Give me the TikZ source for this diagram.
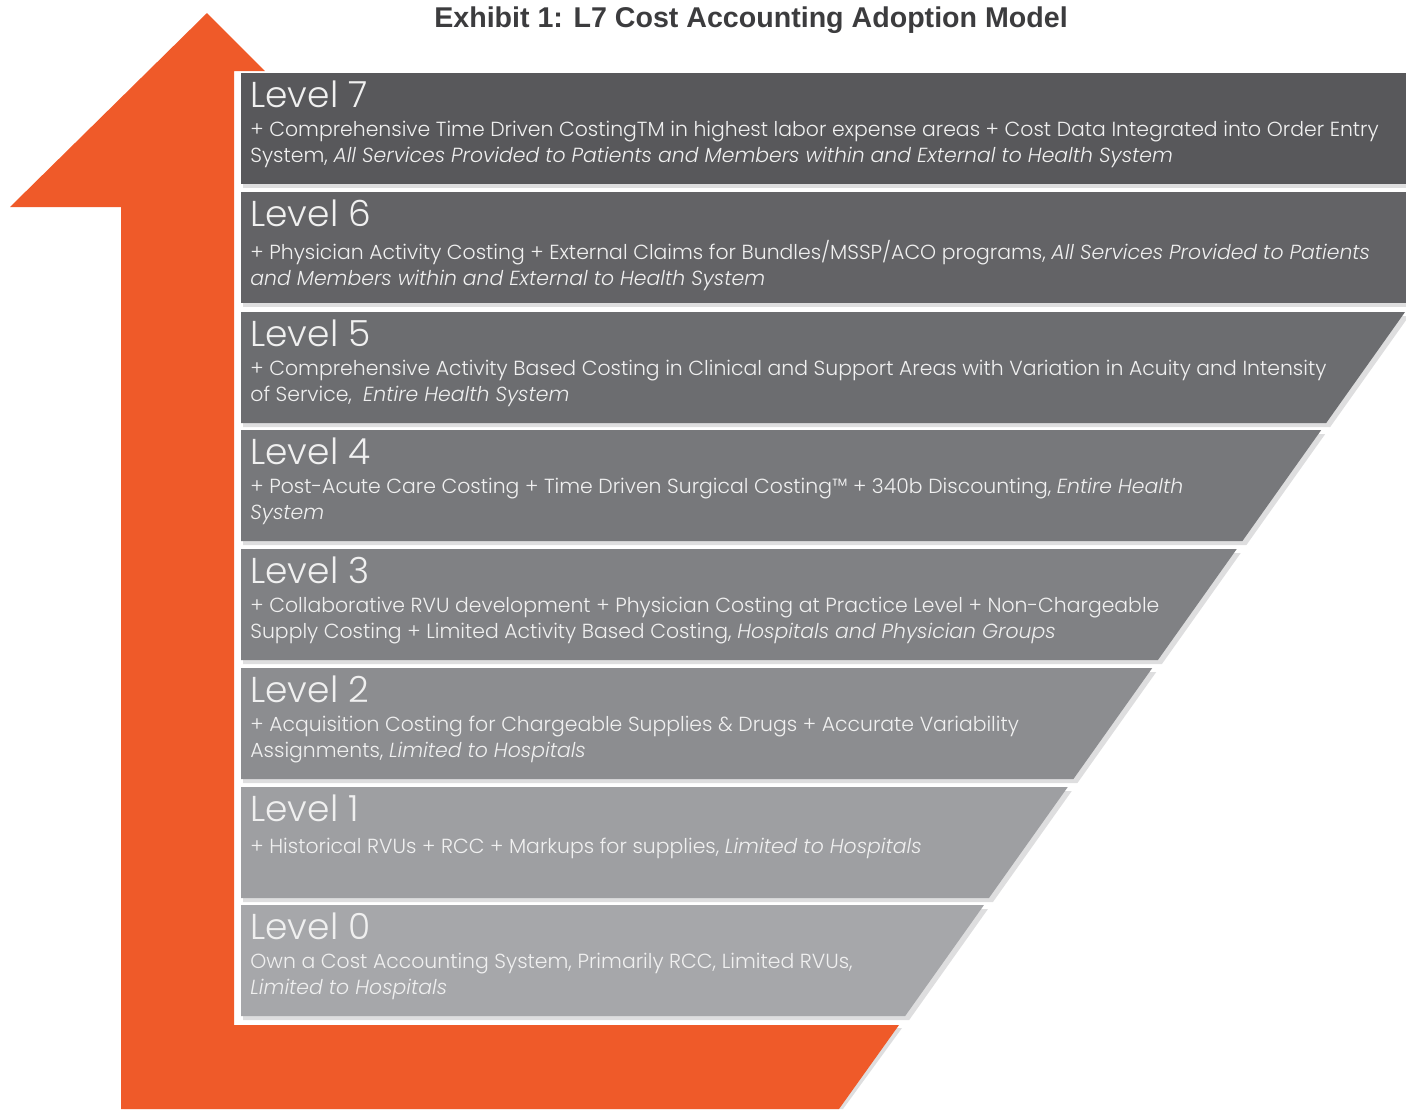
\documentclass[tikz,border=0pt]{standalone}
\usepackage{fontspec}
\setmainfont{Poppins}[UprightFont=* Light, ItalicFont=* Light Italic]
\newfontfamily\titlefont{Liberation Sans}
\usepackage{xcolor}
\usetikzlibrary{positioning}
\definecolor{arroworange}{RGB}{239,90,41}
\definecolor{titlegray}{RGB}{60,60,62}
\definecolor{shadowgray}{RGB}{222,222,223}
\definecolor{lvseven}{RGB}{88,88,91}
\definecolor{lvsix}{RGB}{99,99,102}
\definecolor{lvfive}{RGB}{108,109,112}
\definecolor{lvfour}{RGB}{119,120,123}
\definecolor{lvthree}{RGB}{128,129,132}
\definecolor{lvtwo}{RGB}{140,141,144}
\definecolor{lvone}{RGB}{158,159,162}
\definecolor{lvzero}{RGB}{166,167,170}

\begin{document}
\begin{tikzpicture}[
    x=0.5pt, y=-0.5pt,
    title/.style={font=\titlefont\bfseries\fontsize{14.3}{16}\selectfont, text=titlegray, inner sep=0pt},
    head/.style={font=\fontsize{18}{20}\selectfont, text=white!94!black, inner sep=0pt},
    body/.style={font=\fontsize{10.2}{13}\selectfont, text=white!94!black, align=left, inner sep=0pt,
                 execute at begin node=\strut},
    shade/.style={fill=shadowgray}
]
\useasboundingbox (0,0) rectangle (1406,1109);

% big arrow behind the steps
\fill[shade] (124,1109) -- (843,1109) -- (902,1028) -- (124,1028) -- cycle;
\fill[arroworange] (207,13) -- (10,207) -- (121,207) -- (121,1109) -- (839,1109)
    -- (899,1025) -- (234,1025) -- (234,71) -- (265,71) -- cycle;

% steps, right edge follows one slanted line
\foreach \n/\t/\c in {7/73/lvseven, 6/192/lvsix, 5/312/lvfive, 4/430/lvfour,
                      3/549/lvthree, 2/668/lvtwo, 1/787/lvone, 0/905/lvzero} {
  \pgfmathsetmacro\xt{min(1406,1405-0.71*(\t-312))}
  \pgfmathsetmacro\xb{min(1406,1405-0.71*(\t+111-312))}
  \fill[shade] (243,\t+4) -- (\xt+4,\t+4) -- (\xb+4,\t+115) -- (243,\t+115) -- cycle;
  \fill[\c] (241,\t) -- (\xt,\t) -- (\xb,\t+111) -- (241,\t+111) -- cycle;
  \node[head, anchor=base west] (lv\n) at (250,\t+34) {Level \n};
}

\node[title, anchor=base] (caption) at (751,27) {Exhibit 1: L7 Cost Accounting Adoption Model};

\node[body, below right=6.8pt and 0pt of lv7.base west] (txt7)
  {+ Comprehensive Time Driven CostingTM in highest labor expense areas + Cost Data Integrated into Order Entry\\
   System, \textit{All Services Provided to Patients and Members within and External to Health System}};
\node[body, below right=6.8pt and 0pt of lv6.base west] (txt6)
  {+ Physician Activity Costing + External Claims for Bundles/MSSP/ACO programs, \textit{All Services Provided to Patients}\\
   \textit{and Members within and External to Health System}};
\node[body, below right=6.8pt and 0pt of lv5.base west] (txt5)
  {+ Comprehensive Activity Based Costing in Clinical and Support Areas with Variation in Acuity and Intensity\\
   of Service,~ \textit{Entire Health System}};
\node[body, below right=6.8pt and 0pt of lv4.base west] (txt4)
  {+ Post-Acute Care Costing + Time Driven Surgical Costing™ + 340b Discounting, \textit{Entire Health}\\
   \textit{System}};
\node[body, below right=6.8pt and 0pt of lv3.base west] (txt3)
  {+ Collaborative RVU development + Physician Costing at Practice Level + Non-Chargeable\\
   Supply Costing + Limited Activity Based Costing, \textit{Hospitals and Physician Groups}};
\node[body, below right=6.8pt and 0pt of lv2.base west] (txt2)
  {+ Acquisition Costing for Chargeable Supplies \& Drugs + Accurate Variability\\
   Assignments, \textit{Limited to Hospitals}};
\node[body, below right=6.8pt and 0pt of lv1.base west] (txt1)
  {+ Historical RVUs + RCC + Markups for supplies, \textit{Limited to Hospitals}};
\node[body, below right=6.8pt and 0pt of lv0.base west] (txt0)
  {Own a Cost Accounting System, Primarily RCC, Limited RVUs,\\
   \textit{Limited to Hospitals}};
\end{tikzpicture}
\end{document}
